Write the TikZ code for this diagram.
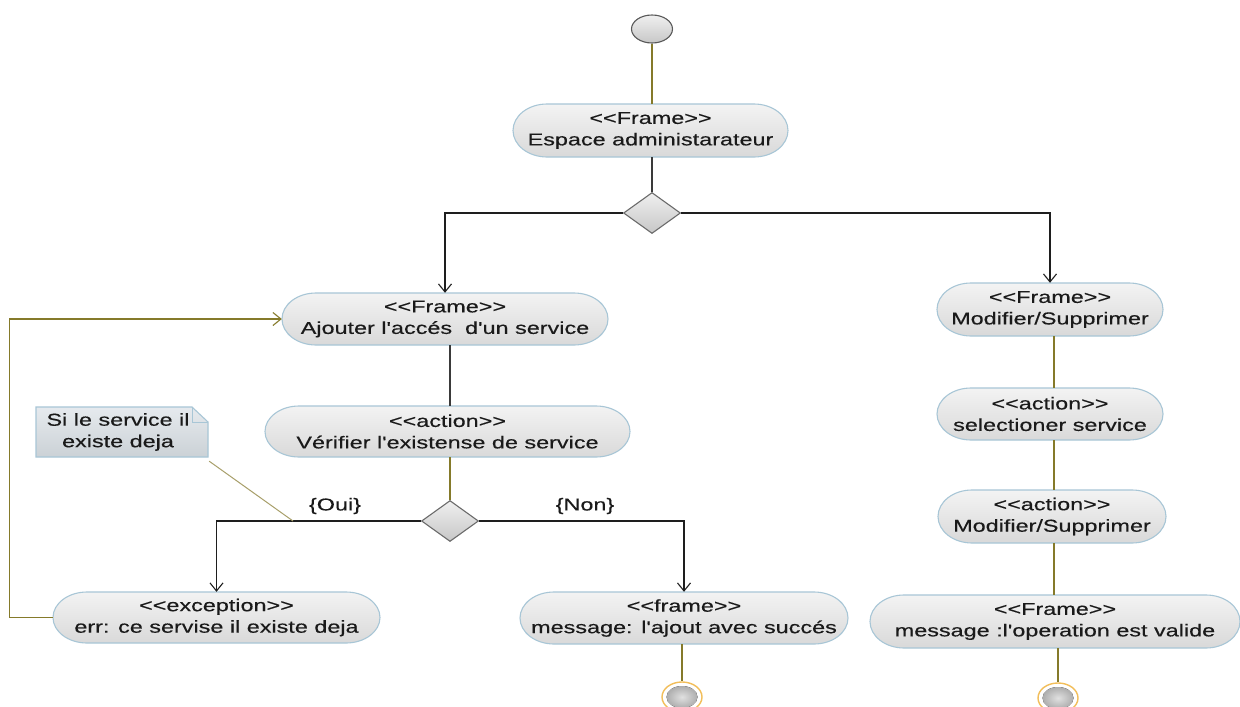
\documentclass[tikz,border=0pt]{standalone}
\usepackage{fontspec}
\setmainfont[FakeStretch=1.36,FakeBold=0.4,Ligatures=TeXOff]{Liberation Sans}
\usetikzlibrary{arrows.meta,shapes.geometric}

\definecolor{oliveln}{HTML}{857A2A}
\definecolor{notecol}{HTML}{A89F6A}
\definecolor{darkln}{HTML}{3A3A3A}
\definecolor{flowln}{HTML}{1E1E1E}
\definecolor{pillborder}{HTML}{A8C6D6}
\definecolor{pilltop}{HTML}{F3F3F3}
\definecolor{pillbot}{HTML}{D9D9D9}
\definecolor{notetop}{HTML}{E6EAEE}
\definecolor{notebot}{HTML}{CBD1D6}
\definecolor{ringcol}{HTML}{F2BE5A}
\definecolor{txtcol}{HTML}{1A1A1A}

% half-width of the elliptic ends of an action pill
\def\pillr{34}

% \actpill{name}{cx}{cy}{width}{height}{text}
\newcommand\actpill[6]{%
  \path[pillshape] ({#2-#4/2+\pillr},{#3-#5/2}) -- ({#2+#4/2-\pillr},{#3-#5/2})
    arc[start angle=90,end angle=-90,x radius={\pillr*1pt},y radius={#5/2*1pt}]
    -- ({#2-#4/2+\pillr},{#3+#5/2})
    arc[start angle=270,end angle=90,x radius={\pillr*1pt},y radius={#5/2*1pt}]
    -- cycle;
  \node[pilltext,minimum width=#4pt,minimum height=#5pt] (#1) at (#2,#3) {#6};}

\begin{document}
\begin{tikzpicture}[x=1pt,y=-1pt,
  font=\fontsize{17.2}{21.5}\selectfont,
  pillshape/.style={draw=pillborder,line width=1.1pt,top color=pilltop,bottom color=pillbot},
  pilltext/.style={shape=rectangle,inner sep=0pt,align=center,text=txtcol},
  startnode/.style={shape=ellipse,minimum width=41pt,minimum height=28pt,inner sep=0pt,
    draw=black!65,line width=1.1pt,top color=black!6,bottom color=black!22},
  endring/.style={shape=ellipse,minimum width=40pt,minimum height=30pt,inner sep=0pt,
    draw=ringcol,line width=1.4pt,fill=white},
  endcore/.style={inner color=black!12,outer color=black!32},
  decision/.style={shape=diamond,minimum width=57pt,minimum height=41pt,inner sep=0pt,
    draw=black!58,line width=1.1pt,top color=black!6,bottom color=black!22},
  noteshape/.style={draw=pillborder,line width=1.1pt,top color=notetop,bottom color=notebot},
  notetext/.style={shape=rectangle,inner sep=0pt,align=center,text=txtcol},
  lbl/.style={inner sep=1pt,text=txtcol},
  oliveline/.style={draw=oliveln,line width=1.1pt},
  darkline/.style={draw=darkln,line width=1.1pt},
  flow/.style={draw=flowln,line width=1.1pt,-{Straight Barb[length=8pt,width=13pt,line width=1.1pt]}},
  loopflow/.style={draw=oliveln,line width=1.1pt,-{Straight Barb[length=8pt,width=13pt,line width=1.1pt]}},
  noteline/.style={draw=notecol,line width=1pt}]

\useasboundingbox (0,0) rectangle (1240,707);
\fill[white] (0,0) rectangle (1240,707);

% initial state
\node[startnode] (start) at (652,29) {};

% actions
\actpill{f1}{650.5}{130.5}{275}{53}{<<Frame>>\\Espace administarateur}
\actpill{ajout}{445}{319}{326}{52}{<<Frame>>\\Ajouter l'accés\ \ d'un service}
\actpill{verif}{447.5}{431.5}{365}{51}{<<action>>\\Vérifier l'existense de service}
\actpill{exc}{216.5}{617.5}{327}{51}{<<exception>>\\err: ce servise il existe deja}
\actpill{msg}{684}{618}{328}{52}{<<frame>>\\message: l'ajout avec succés}
\actpill{mod1}{1050}{309.5}{226}{53}{<<Frame>>\\Modifier/Supprimer}
\actpill{sel}{1050}{414}{226}{52}{<<action>>\\selectioner service}
\actpill{mod2}{1052}{516.5}{228}{53}{<<action>>\\Modifier/Supprimer}
\actpill{fin}{1055}{621.5}{370}{53}{<<Frame>>\\message :l'operation est valide}

% decisions
\node[decision] (d1) at (652,213) {};
\node[decision] (d2) at (450,521) {};

% final states
\node[endring] (end1) at (682,697) {};
\fill[endcore] (end1.center) ellipse [x radius=15.5pt,y radius=11pt];
\node[endring] (end2) at (1058,698) {};
\fill[endcore] (end2.center) ellipse [x radius=15.5pt,y radius=11pt];

% comment note with folded corner
\path[noteshape] (36,407) -- (192,407) -- (208,422) -- (208,457) -- (36,457) -- cycle;
\draw[draw=pillborder,line width=1pt] (192,407) -- (192,422) -- (208,422);
\node[notetext,minimum width=172pt,minimum height=50pt] (note) at (118,432)
  {Si le service il\\existe deja};
\coordinate (nt) at (293,521);

% guard labels
\node[lbl] (oui) at (335,506) {\{Oui\}};
\node[lbl] (non) at (585,506) {\{Non\}};

% flows
\draw[oliveline] (start.south) -- (start.south |- f1.north);
\draw[darkline] (f1.south -| d1.north) -- (d1.north);
\draw[flow] (d1.west) -| (ajout.north);
\draw[flow] (d1.east) -| (mod1.north);
\draw[darkline] ([xshift=5pt]ajout.south) -- ([xshift=5pt]ajout.south |- verif.north);
\draw[oliveline] (verif.south -| d2.north) -- (d2.north);
\draw[flow] (d2.west) -| (exc.north);
\draw[flow] (d2.east) -| (msg.north);
\draw[noteline] ([shift={(5pt,-4pt)}]note.south east) -- (nt);
\draw[loopflow] (exc.west) -- ++(-43,0) |- (ajout.west);
\draw[oliveline] (msg.south -| end1.north) -- (end1.north);

\draw[oliveline] ([xshift=4pt]mod1.south) -- ([xshift=4pt]mod1.south |- sel.north);
\draw[oliveline] ([xshift=4pt]sel.south) -- ([xshift=4pt]sel.south |- mod2.north);
\draw[oliveline] ([xshift=2pt]mod2.south) -- ([xshift=2pt]mod2.south |- fin.north);
\draw[oliveline] (fin.south -| end2.north) -- (end2.north);
\end{tikzpicture}
\end{document}
